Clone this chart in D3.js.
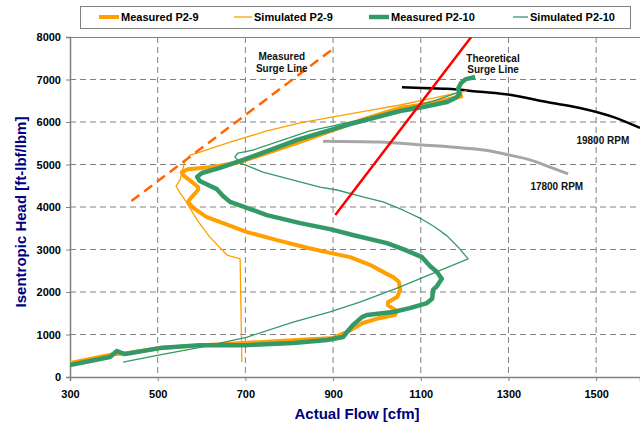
<!DOCTYPE html>
<html>
<head>
<meta charset="utf-8">
<script src="https://cdn.jsdelivr.net/npm/d3@7"></script>
<style>
  body { margin: 0; background: #fff; }
  svg { display: block; font-family: "Liberation Sans", Arial, sans-serif; }
</style>
</head>
<body>
<svg></svg>
<script>
// chart values as [flow cfm, head ft-lbf/lbm]
var measuredP29 = [[300,330],[368,470],[403,540],[430,560],[505,680],[603,750],[695,800],[847,890],[900,920],
  [932,1060],[968,1270],[1007,1390],[1041,1460],[1046,1550],[1025,1690],[1025,1760],[1046,1880],[1053,2050],
  [1050,2240],[1037,2350],[1018,2450],[984,2640],[939,2820],[893,2920],[841,3040],[772,3220],[704,3410],
  [649,3620],[612,3760],[581,3980],[569,4120],[578,4240],[592,4400],[592,4470],[578,4590],[558,4750],
  [555,4820],[569,4890],[626,4940],[688,5060],[749,5270],[825,5530],[900,5810],[977,6090],[1053,6330],
  [1098,6400],[1144,6490],[1196,6610]];

var simulatedP29 = [[692,350],[688,2780],[658,2870],[619,3290],[590,3690],[567,4090],[551,4330],[542,4490],
  [551,4640],[555,4800],[562,5080],[574,5220],[596,5290],[672,5550],[749,5790],[825,5980],[900,6120],
  [977,6260],[1053,6400],[1128,6560],[1205,6730]];

var measuredP210 = [[300,280],[391,470],[407,610],[425,540],[505,680],[596,750],[704,750],[809,800],[886,870],
  [923,940],[932,1060],[945,1220],[966,1410],[977,1460],[1037,1530],[1075,1620],[1114,1740],[1126,1840],
  [1128,2050],[1137,2140],[1148,2310],[1137,2470],[1121,2610],[1103,2820],[1064,2990],[1023,3150],
  [945,3340],[893,3480],[825,3620],[749,3810],[665,4120],[649,4260],[635,4420],[596,4610],[590,4710],
  [601,4800],[642,4920],[695,5110],[756,5340],[818,5580],[893,5810],[939,5950],[1053,6260],[1105,6350],
  [1160,6470],[1180,6570],[1189,6660],[1185,6780],[1192,6920],[1203,7010],[1224,7060]];

var simulatedP210 = [[421,350],[505,520],[603,710],[704,940],[809,1290],[893,1530],[961,1760],[1046,2090],
  [1208,2780],[1185,3060],[1160,3320],[1132,3530],[1098,3740],[1059,3930],[1014,4120],[968,4240],
  [909,4400],[870,4470],[818,4610],[740,4820],[688,5040],[676,5180],[683,5270],[717,5340],[786,5580],
  [847,5790],[900,5910],[977,6090],[1053,6280],[1128,6490],[1189,6710]];

var measuredSurge = [[440,4140],[905,7760]];
var theoreticalSurge = [[905,3810],[1215,8000]];
var rpm19800 = [[1057,6820],[1105,6800],[1160,6780],[1235,6710],[1303,6640],[1388,6470],[1463,6330],
  [1538,6120],[1600,5860]];
var rpm17800 = [[877,5550],[1007,5530],[1105,5460],[1196,5390],[1258,5320],[1303,5220],[1349,5110],
  [1395,4940],[1436,4780]];

var xTicks = [300, 500, 700, 900, 1100, 1300, 1500];
var xGrid = [500, 700, 900, 1100, 1300, 1500];
var yTicks = [0, 1000, 2000, 3000, 4000, 5000, 6000, 7000, 8000];
var legendNames = ["Measured P2-9", "Simulated P2-9", "Measured P2-10", "Simulated P2-10"];

var width = 640, height = 429;
var plotLeft = 70, plotRight = 640, plotTop = 37, plotBottom = 377;

var svg = d3.select("svg").attr("width", width).attr("height", height);

var x = d3.scaleLinear().domain([300, 1600]).range([plotLeft, plotRight]);
var y = d3.scaleLinear().domain([0, 8000]).range([plotBottom, plotTop]);

svg.append("defs").append("clipPath").attr("id", "plot")
  .append("rect").attr("x", plotLeft).attr("y", plotTop)
  .attr("width", plotRight - plotLeft).attr("height", plotBottom - plotTop);

// grid
svg.append("g").selectAll("line").data(xGrid).enter().append("line")
  .attr("x1", d => x(d)).attr("x2", d => x(d)).attr("y1", plotTop).attr("y2", plotBottom)
  .attr("stroke", "#808080").attr("stroke-dasharray", "6,4");
svg.append("g").selectAll("line").data(yTicks.slice(1, -1)).enter().append("line")
  .attr("x1", plotLeft).attr("x2", plotRight).attr("y1", d => y(d)).attr("y2", d => y(d))
  .attr("stroke", "#808080").attr("stroke-dasharray", "6,4");

// plot border
svg.append("line").attr("x1", plotLeft).attr("x2", plotRight)
  .attr("y1", plotTop + 0.5).attr("y2", plotTop + 0.5)
  .attr("stroke", "#808080");

// axes
var yAxis = svg.append("g").attr("transform", "translate(" + plotLeft + ",0)")
  .call(d3.axisLeft(y).tickValues(yTicks).tickSize(4).tickPadding(5).tickFormat(d3.format("d")));
var xAxis = svg.append("g").attr("transform", "translate(0," + plotBottom + ")")
  .call(d3.axisBottom(x).tickValues(xTicks).tickSize(4).tickPadding(9).tickFormat(d3.format("d")));
[xAxis, yAxis].forEach(function (a) {
  a.select(".domain").attr("stroke", "#808080").attr("stroke-width", 1.5);
  a.selectAll(".tick line").attr("stroke", "#808080");
  a.selectAll(".tick text").attr("font-size", 11).attr("font-weight", "bold").attr("fill", "#000")
    .attr("font-family", "Liberation Sans, Arial, sans-serif");
});

svg.append("text")
  .attr("x", 357).attr("y", 419)
  .attr("text-anchor", "middle")
  .attr("font-size", 15).attr("font-weight", "bold").attr("fill", "#000080")
  .text("Actual Flow [cfm]");

svg.append("text")
  .attr("transform", "rotate(-90)")
  .attr("x", -212).attr("y", 26)
  .attr("text-anchor", "middle")
  .attr("font-size", 15).attr("font-weight", "bold").attr("fill", "#000080")
  .text("Isentropic Head [ft-lbf/lbm]");

var line = d3.line().x(d => x(d[0])).y(d => y(d[1]));
var smooth = d3.line().x(d => x(d[0])).y(d => y(d[1])).curve(d3.curveMonotoneX);

var plot = svg.append("g").attr("clip-path", "url(#plot)");

function draw(data, gen, color, w, dash) {
  plot.append("path").datum(data).attr("d", gen)
    .attr("fill", "none").attr("stroke", color).attr("stroke-width", w)
    .attr("stroke-linejoin", "round").attr("stroke-linecap", "butt")
    .attr("stroke-dasharray", dash || null);
}

draw(rpm17800, smooth, "#a6a6a6", 3);
draw(rpm19800, smooth, "#000000", 2.5);
draw(measuredP29, line, "#ff9f00", 4);
draw(simulatedP29, line, "#ff9f00", 1.3);
draw(measuredP210, line, "#339966", 4.5);
draw(simulatedP210, line, "#339966", 1.3);
draw(theoreticalSurge, line, "#ff0000", 2.5);
draw(measuredSurge, line, "#ff6600", 2.5, "10,6");

// annotations
var notes = [
  {t: "Measured", x: 783, y: 7450, a: "middle"},
  {t: "Surge Line", x: 783, y: 7170, a: "middle"},
  {t: "Theoretical", x: 1204, y: 7420, a: "start"},
  {t: "Surge Line", x: 1206, y: 7150, a: "start"},
  {t: "19800 RPM", x: 1455, y: 5480, a: "start"},
  {t: "17800 RPM", x: 1350, y: 4400, a: "start"}
];
svg.append("g").selectAll("text").data(notes).enter().append("text")
  .attr("x", d => x(d.x)).attr("y", d => y(d.y))
  .attr("text-anchor", d => d.a)
  .attr("font-size", 10).attr("font-weight", "bold").attr("fill", "#111")
  .text(d => d.t);

// legend
var legend = svg.append("g");
legend.append("rect").attr("x", 80.5).attr("y", 6.5).attr("width", 550).attr("height", 22)
  .attr("fill", "#fff").attr("stroke", "#808080");
var legendX = [99, 234, 369, 513];
var legendLen = [20, 18, 20, 15];
var legendColor = ["#ff9f00", "#ff9f00", "#339966", "#339966"];
var legendW = [4, 1.3, 4.5, 1.3];
legendNames.forEach(function (name, i) {
  legend.append("line")
    .attr("x1", legendX[i]).attr("x2", legendX[i] + legendLen[i]).attr("y1", 17).attr("y2", 17)
    .attr("stroke", legendColor[i]).attr("stroke-width", legendW[i]);
  legend.append("text")
    .attr("x", legendX[i] + legendLen[i] + 2).attr("y", 21)
    .attr("font-size", 11).attr("font-weight", "bold").attr("fill", "#000")
    .text(name);
});
</script>
</body>
</html>
